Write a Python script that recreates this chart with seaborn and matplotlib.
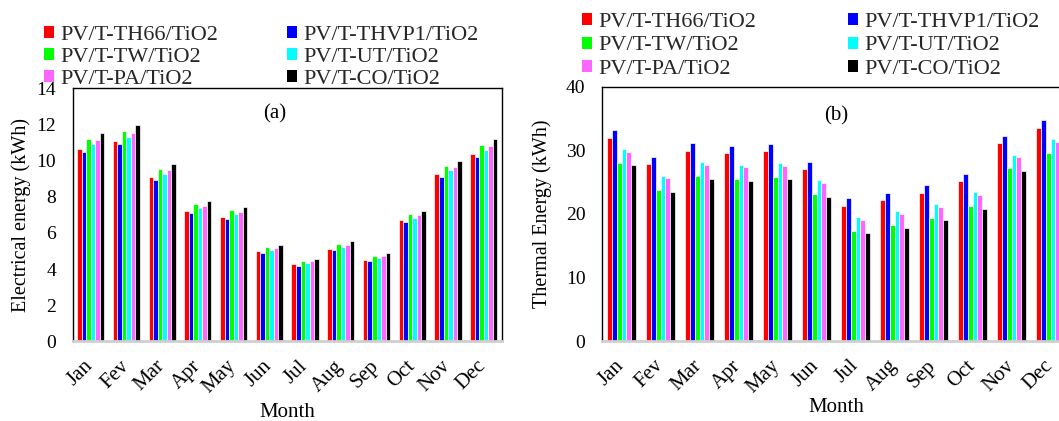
import numpy as np
import pandas as pd
import matplotlib
matplotlib.use("Agg")
import matplotlib.pyplot as plt
import matplotlib.transforms as mtransforms
from matplotlib.patches import Patch
import seaborn as sns

months = ["Jan", "Fev", "Mar", "Apr", "May", "Jun", "Jul", "Aug", "Sep", "Oct", "Nov", "Dec"]
series = ["PV/T-TH66/TiO2", "PV/T-THVP1/TiO2", "PV/T-TW/TiO2", "PV/T-UT/TiO2", "PV/T-PA/TiO2", "PV/T-CO/TiO2"]
colors = ["#FF0000", "#0000FF", "#00FF00", "#00FFFF", "#FF66FF", "#000000"]

# Electrical energy (kWh)
elec_th66 = [10.67, 11.10, 9.09, 7.20, 6.91, 4.99, 4.27, 5.13, 4.52, 6.70, 9.27, 10.36]
elec_thvp1 = [10.49, 10.90, 8.92, 7.09, 6.78, 4.88, 4.17, 5.04, 4.45, 6.59, 9.10, 10.19]
elec_tw = [11.19, 11.63, 9.53, 7.59, 7.26, 5.21, 4.45, 5.37, 4.75, 7.04, 9.71, 10.86]
elec_ut = [10.90, 11.32, 9.27, 7.37, 7.05, 5.08, 4.34, 5.24, 4.62, 6.83, 9.46, 10.58]
elec_pa = [11.12, 11.56, 9.46, 7.52, 7.18, 5.17, 4.43, 5.34, 4.71, 6.98, 9.64, 10.80]
elec_co = [11.52, 11.97, 9.79, 7.79, 7.44, 5.36, 4.58, 5.54, 4.88, 7.22, 9.97, 11.19]

# Thermal energy (kWh)
therm_th66 = [31.99, 27.84, 29.94, 29.58, 29.89, 27.06, 21.29, 22.18, 23.28, 25.12, 31.15, 33.56]
therm_thvp1 = [33.19, 29.00, 31.15, 30.73, 31.04, 28.21, 22.50, 23.34, 24.49, 26.27, 32.25, 34.77]
therm_tw = [28.00, 23.81, 25.90, 25.54, 25.85, 23.13, 17.36, 18.25, 19.40, 21.19, 27.16, 29.63]
therm_ut = [30.20, 25.96, 28.10, 27.74, 28.05, 25.28, 19.56, 20.45, 21.60, 23.39, 29.31, 31.78]
therm_pa = [29.78, 25.59, 27.69, 27.32, 27.58, 24.80, 19.09, 20.03, 21.13, 22.92, 28.89, 31.36]
therm_co = [27.63, 23.44, 25.54, 25.17, 25.49, 22.65, 16.94, 17.83, 18.98, 20.77, 26.74, 29.20]


def long_df(cols):
    rows = []
    for s, vals in zip(series, cols):
        for m, v in zip(months, vals):
            rows.append({"Month": m, "Series": s, "Value": v})
    return pd.DataFrame(rows)


df_e = long_df([elec_th66, elec_thvp1, elec_tw, elec_ut, elec_pa, elec_co])
df_t = long_df([therm_th66, therm_thvp1, therm_tw, therm_ut, therm_pa, therm_co])

sns.set_theme(style="white")
plt.rcParams["font.family"] = ["Liberation Serif", "DejaVu Serif"]

fig = plt.figure(figsize=(10.59, 4.21), dpi=100)
ax1 = fig.add_axes([0.0687, 0.189, 0.405, 0.601])
ax2 = fig.add_axes([0.5685, 0.190, 0.4419, 0.604])

shift = mtransforms.ScaledTranslation(-7 / 100, 0, fig.dpi_scale_trans)

for ax, df, ymax, step, ylabel, tag, tagxy in [
    (ax1, df_e, 14, 2, "Electrical energy (kWh)", "(a)", (0.47, 0.9)),
    (ax2, df_t, 40, 10, "Thermal Energy (kWh)", "(b)", (0.5, 0.885)),
]:
    sns.barplot(data=df, x="Month", y="Value", hue="Series", hue_order=series,
                order=months, palette=colors, width=0.76, saturation=1,
                edgecolor="white", linewidth=0.5, legend=False, ax=ax)
    ax.set_xlim(-0.5, 11.5)
    ax.set_ylim(0, ymax)
    ax.set_yticks(np.arange(0, ymax + 0.1, step))
    ax.tick_params(axis="both", length=0, colors="black")
    ax.tick_params(axis="y", labelsize=14, pad=12)
    ax.tick_params(axis="x", labelsize=15, pad=11)
    for lbl in ax.get_xticklabels():
        lbl.set_rotation(45)
        lbl.set_ha("right")
        lbl.set_rotation_mode("anchor")
        lbl.set_transform(lbl.get_transform() + shift)
    ax.set_xlabel("Month", fontsize=15, color="black")
    ax.set_ylabel(ylabel, fontsize=14.5, color="black")
    for side in ["top", "left", "right"]:
        ax.spines[side].set_color("black")
        ax.spines[side].set_linewidth(1.0)
    ax.spines["bottom"].set_color("#cfcfcf")
    ax.spines["bottom"].set_linewidth(2.0)
    ax.text(tagxy[0], tagxy[1], tag, transform=ax.transAxes, fontsize=15,
            ha="center", va="center", color="black")

ax1.xaxis.labelpad = 4
ax2.xaxis.labelpad = 1
ax1.yaxis.labelpad = 4
ax2.yaxis.labelpad = 10

order_idx = [0, 2, 4, 1, 3, 5]
handles = [Patch(facecolor=colors[i], edgecolor="none", label=series[i]) for i in order_idx]

common = dict(handles=handles, ncol=2, frameon=False, loc="upper left",
              fontsize=16, handlelength=0.45, handleheight=0.45,
              handletextpad=0.3, borderpad=0, borderaxespad=0)
fig.legend(bbox_to_anchor=(44 / 1059, 1 - 26 / 421), columnspacing=3.06,
           labelspacing=0.14, **common)
fig.legend(bbox_to_anchor=(582 / 1059, 1 - 13 / 421), columnspacing=4.1,
           labelspacing=0.2, **common)

fig.savefig("out.png", dpi=100)
